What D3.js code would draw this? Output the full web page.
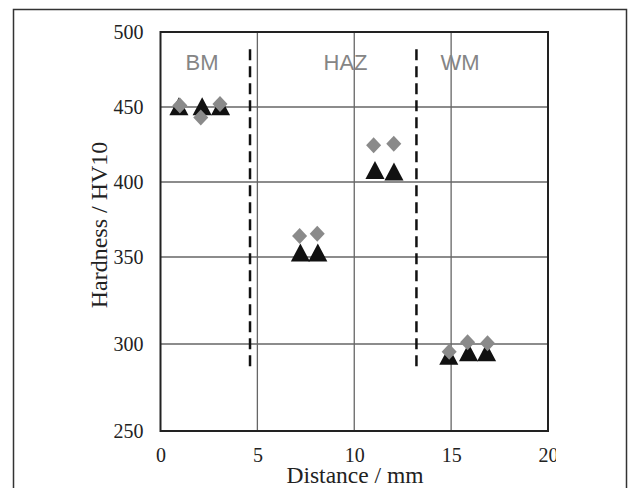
<!DOCTYPE html>
<html>
<head>
<meta charset="utf-8">
<script src="https://cdn.jsdelivr.net/npm/d3@7"></script>
<style>
  body { margin: 0; background: #fff; }
  .tick text { font-family: "Liberation Serif", "Times New Roman", serif; font-size: 20px; fill: #222; }
</style>
</head>
<body>
<div class="chart"></div>
<script>
// hardness profile across the weld
var xTicks = [0, 5, 10, 15, 20];
var yTicks = [250, 300, 350, 400, 450, 500];

// grey diamonds
var diamondDist = [1.0, 2.08, 3.07, 7.18, 8.09, 11.0, 12.04, 14.9, 15.85, 16.88];
var diamondHV = [451, 443, 452, 364, 365.5, 424.5, 425.5, 295.5, 301, 300.5];

// black triangles
var triangleDist = [0.95, 2.15, 3.1, 7.22, 8.12, 11.07, 12.05, 14.88, 15.9, 16.83];
var triangleHV = [448.5, 448.5, 448.5, 351, 351, 406, 405, 291.5, 293.5, 293.5];

// zones and their boundaries
var zoneNames = ["BM", "HAZ", "WM"];
var zoneDist = [2.14, 9.55, 15.46];
var zoneHV = 474.5;
var boundaryDist = [4.62, 13.21];
var boundaryHV = [286.5, 488.5];

var W = 634, H = 488;
var plot = { left: 160.5, right: 548, top: 32, bottom: 431 };

var xScale = d3.scaleLinear().domain([0, 20]).range([plot.left, plot.right]);
// the source figure is not evenly spaced below 350
var yScale = d3.scaleLinear().domain([250, 350, 500]).range([plot.bottom, 257, plot.top]);

var svg = d3.select(".chart").append("svg")
    .attr("width", W)
    .attr("height", H);

svg.append("rect")
    .attr("width", W).attr("height", H)
    .attr("fill", "#fff");

// outer frame
svg.append("rect")
    .attr("x", 13.5).attr("y", 9.5)
    .attr("width", 613).attr("height", 520)
    .attr("fill", "none")
    .attr("stroke", "#333")
    .attr("stroke-width", 1.5);

// grid
svg.append("g").selectAll("line")
    .data(xTicks.slice(1, -1))
    .enter().append("line")
    .attr("x1", function(d) { return xScale(d); })
    .attr("x2", function(d) { return xScale(d); })
    .attr("y1", plot.top).attr("y2", plot.bottom)
    .attr("stroke", "#666").attr("stroke-width", 1.3);

svg.append("g").selectAll("line")
    .data(yTicks.slice(1, -1))
    .enter().append("line")
    .attr("y1", function(d) { return yScale(d); })
    .attr("y2", function(d) { return yScale(d); })
    .attr("x1", plot.left).attr("x2", plot.right)
    .attr("stroke", "#666").attr("stroke-width", 1.3);

// zone boundaries
svg.append("g").selectAll("line")
    .data(boundaryDist)
    .enter().append("line")
    .attr("x1", function(d) { return xScale(d); })
    .attr("x2", function(d) { return xScale(d); })
    .attr("y1", yScale(boundaryHV[1]))
    .attr("y2", yScale(boundaryHV[0]))
    .attr("stroke", "#111")
    .attr("stroke-width", 2.5)
    .attr("stroke-dasharray", "11,6");

// plot border
svg.append("rect")
    .attr("x", plot.left).attr("y", plot.top)
    .attr("width", plot.right - plot.left)
    .attr("height", plot.bottom - plot.top)
    .attr("fill", "none")
    .attr("stroke", "#222")
    .attr("stroke-width", 2);

// zone labels
svg.append("g").selectAll("text")
    .data(zoneNames)
    .enter().append("text")
    .attr("x", function(d, i) { return xScale(zoneDist[i]); })
    .attr("y", yScale(zoneHV))
    .attr("text-anchor", "middle")
    .attr("font-family", "Liberation Sans, Arial, sans-serif")
    .attr("font-size", 22)
    .attr("fill", "#858585")
    .text(function(d) { return d; });

// markers
var triangleType = {
    draw: function(ctx, size) {
        var h = Math.sqrt(size);
        ctx.moveTo(0, -h * 2 / 3);
        ctx.lineTo(h * 0.53, h / 3);
        ctx.lineTo(-h * 0.53, h / 3);
        ctx.closePath();
    }
};
var diamondType = {
    draw: function(ctx, size) {
        var h = Math.sqrt(size) / 2;
        ctx.moveTo(0, -h);
        ctx.lineTo(h * 0.94, 0);
        ctx.lineTo(0, h);
        ctx.lineTo(-h * 0.94, 0);
        ctx.closePath();
    }
};

svg.append("g").selectAll("path")
    .data(triangleDist)
    .enter().append("path")
    .attr("d", d3.symbol().type(triangleType).size(18 * 18))
    .attr("transform", function(d, i) {
        return "translate(" + xScale(d) + "," + yScale(triangleHV[i]) + ")";
    })
    .attr("fill", "#111");

svg.append("g").selectAll("path")
    .data(diamondDist)
    .enter().append("path")
    .attr("d", d3.symbol().type(diamondType).size(16 * 16))
    .attr("transform", function(d, i) {
        return "translate(" + xScale(d) + "," + yScale(diamondHV[i]) + ")";
    })
    .attr("fill", "#8a8a8a");

// axes
var clip = svg.append("clipPath").attr("id", "clip")
    .append("rect").attr("x", 0).attr("y", 0).attr("width", 556).attr("height", 485);

var yAxis = svg.append("g")
    .attr("transform", "translate(" + plot.left + ",0)")
    .call(d3.axisLeft(yScale).tickValues(yTicks).tickSize(0).tickPadding(17));
yAxis.select(".domain").remove();

var xAxis = svg.append("g")
    .attr("clip-path", "url(#clip)")
    .append("g")
    .attr("transform", "translate(0," + plot.bottom + ")")
    .call(d3.axisBottom(xScale).tickValues(xTicks).tickSize(0));
xAxis.select(".domain").remove();
xAxis.selectAll("text").attr("y", 24.5).attr("dy", "0.33em");

svg.append("text")
    .attr("transform", "translate(99,225) rotate(-90)")
    .attr("text-anchor", "middle")
    .attr("dy", "0.33em")
    .attr("font-family", "Liberation Serif, Times New Roman, serif")
    .attr("font-size", 24)
    .attr("fill", "#222")
    .text("Hardness / HV10");

svg.append("g").attr("clip-path", "url(#clip)")
    .append("text")
    .attr("x", 355).attr("y", 483)
    .attr("text-anchor", "middle")
    .attr("font-family", "Liberation Serif, Times New Roman, serif")
    .attr("font-size", 23.5)
    .attr("fill", "#222")
    .text("Distance / mm");
</script>
</body>
</html>
